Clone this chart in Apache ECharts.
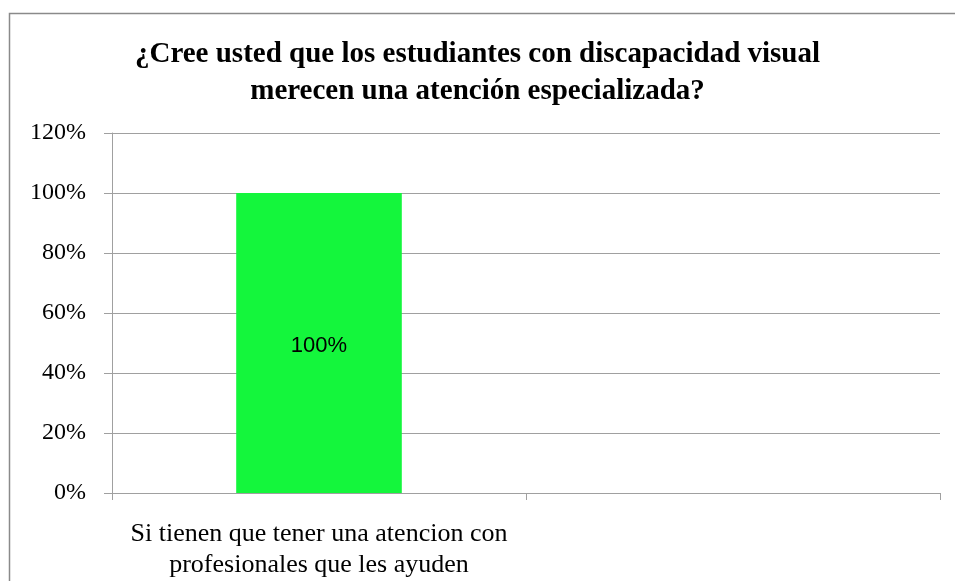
<!DOCTYPE html>
<html>
<head>
<meta charset="utf-8">
<script src="https://cdn.jsdelivr.net/npm/echarts@6/dist/echarts.min.js"></script>
<style>
html, body { margin: 0; padding: 0; background: #fff; }
#chart { width: 955px; height: 581px; }
</style>
</head>
<body>
<div id="chart"></div>
<script>
// datos del gráfico
var categories = ['Si tienen que tener una atencion con\nprofesionales que les ayuden', ''];
var values = [100, null];
var yTicks = [0, 20, 40, 60, 80, 100, 120];
var titleText = '¿Cree usted que los estudiantes con discapacidad visual\nmerecen una atención especializada?';

var myChart = echarts.init(document.getElementById('chart'));

var option = {
    backgroundColor: '#fff',
    animation: false,
    title: {
        text: titleText,
        left: 'center',
        top: 31,
        textStyle: {
            fontFamily: 'Liberation Serif',
            fontWeight: 'bold',
            fontSize: 29,
            lineHeight: 37,
            color: '#000'
        }
    },
    graphic: [{
        type: 'rect',
        shape: { x: 9.5, y: 13.5, width: 960, height: 600 },
        style: { fill: 'none', stroke: '#8a8a8a', lineWidth: 1.5 },
        z: -1
    }],
    grid: {
        left: 112,
        right: 15,
        top: 133,
        bottom: 87
    },
    xAxis: {
        type: 'category',
        data: categories,
        axisLine: { show: true, lineStyle: { color: '#a0a0a0', width: 1 } },
        axisTick: { show: true, alignWithLabel: false, length: 7, lineStyle: { color: '#a0a0a0' } },
        axisLabel: {
            interval: 0,
            margin: 26,
            fontFamily: 'Liberation Serif',
            fontSize: 26,
            lineHeight: 31,
            color: '#000'
        }
    },
    yAxis: {
        type: 'value',
        min: yTicks[0],
        max: yTicks[yTicks.length - 1],
        interval: 20,
        axisLine: { show: true, lineStyle: { color: '#a0a0a0', width: 1 } },
        axisTick: { show: true, length: 8, lineStyle: { color: '#a0a0a0' } },
        splitLine: { show: true, lineStyle: { color: '#a0a0a0', width: 1 } },
        axisLabel: {
            margin: 26,
            formatter: '{value}%',
            fontFamily: 'Liberation Serif',
            fontSize: 24,
            color: '#000'
        }
    },
    series: [{
        type: 'bar',
        data: values,
        barWidth: '40%',
        itemStyle: { color: '#14f63c' },
        label: {
            show: true,
            position: 'inside',
            offset: [0, 3],
            formatter: '{c}%',
            fontFamily: 'Liberation Sans',
            fontSize: 22,
            color: '#000'
        }
    }]
};

myChart.setOption(option);
</script>
</body>
</html>
